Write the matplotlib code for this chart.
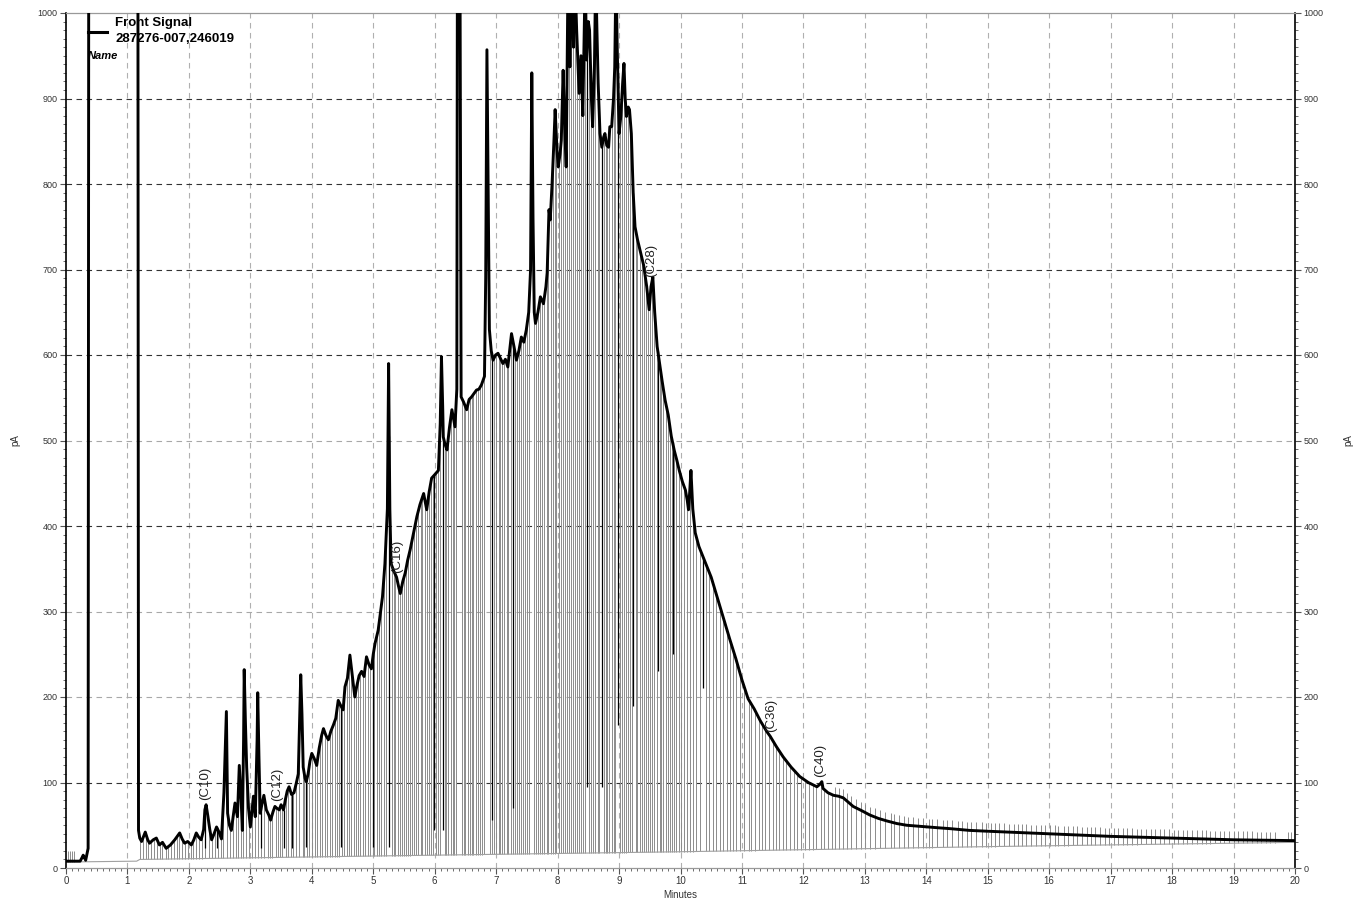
import numpy as np
import matplotlib.pyplot as plt
from matplotlib.ticker import MultipleLocator

plt.rcParams['font.family'] = ['Liberation Sans', 'DejaVu Sans']

trace_t = np.array([
    0.00, 0.23, 0.26, 0.28, 0.32, 0.36, 0.37, 1.17, 1.18, 1.20, 1.23, 1.29, 1.33, 1.36, 1.42,
    1.47, 1.52, 1.57, 1.63, 1.70, 1.77, 1.85, 1.89, 1.93, 1.98, 2.04, 2.08, 2.12, 2.16, 2.20,
    2.24, 2.26, 2.28, 2.31, 2.34, 2.37, 2.41, 2.45, 2.49, 2.53, 2.57, 2.61, 2.63, 2.66, 2.69,
    2.72, 2.75, 2.79, 2.82, 2.85, 2.87, 2.89, 2.90, 2.92, 2.94, 2.97, 3.00, 3.03, 3.05, 3.08,
    3.11, 3.12, 3.14, 3.16, 3.19, 3.22, 3.26, 3.30, 3.33, 3.37, 3.40, 3.43, 3.47, 3.50, 3.54,
    3.57, 3.60, 3.63, 3.67, 3.71, 3.75, 3.78, 3.81, 3.82, 3.84, 3.86, 3.89, 3.91, 3.94, 3.97,
    4.00, 4.04, 4.08, 4.12, 4.16, 4.19, 4.23, 4.27, 4.31, 4.35, 4.39, 4.43, 4.47, 4.51, 4.54,
    4.58, 4.62, 4.66, 4.70, 4.73, 4.77, 4.81, 4.85, 4.89, 4.93, 4.97, 5.00, 5.03, 5.08, 5.12,
    5.15, 5.19, 5.23, 5.25, 5.27, 5.29, 5.33, 5.38, 5.41, 5.44, 5.48, 5.52, 5.56, 5.60, 5.65,
    5.71, 5.76, 5.82, 5.87, 5.91, 5.95, 6.00, 6.06, 6.09, 6.11, 6.13, 6.14, 6.17, 6.20, 6.24,
    6.28, 6.33, 6.36, 6.37, 6.41, 6.43, 6.47, 6.52, 6.56, 6.60, 6.64, 6.68, 6.72, 6.76, 6.81,
    6.83, 6.85, 6.87, 6.89, 6.92, 6.95, 6.99, 7.03, 7.07, 7.11, 7.15, 7.19, 7.22, 7.25, 7.29,
    7.33, 7.37, 7.41, 7.45, 7.49, 7.53, 7.56, 7.58, 7.60, 7.62, 7.64, 7.68, 7.72, 7.77, 7.81,
    7.83, 7.86, 7.88, 7.91, 7.94, 7.96, 7.99, 8.01, 8.04, 8.06, 8.09, 8.11, 8.14, 8.17, 8.20,
    8.23, 8.26, 8.28, 8.31, 8.35, 8.38, 8.41, 8.45, 8.47, 8.50, 8.52, 8.55, 8.57, 8.60, 8.62,
    8.64, 8.66, 8.69, 8.72, 8.75, 8.77, 8.80, 8.83, 8.85, 8.88, 8.91, 8.93, 8.95, 8.97, 9.00,
    9.03, 9.06, 9.08, 9.10, 9.12, 9.15, 9.17, 9.20, 9.23, 9.26, 9.30, 9.35, 9.40, 9.45, 9.49,
    9.52, 9.55, 9.58, 9.62, 9.66, 9.70, 9.75, 9.80, 9.85, 9.90, 9.94, 9.98, 10.03, 10.08, 10.11,
    10.13, 10.15, 10.17, 10.20, 10.24, 10.30, 10.40, 10.50, 10.60, 10.70, 10.80, 10.90, 11.00, 11.10, 11.20,
    11.30, 11.40, 11.46, 11.56, 11.67, 11.80, 11.94, 12.08, 12.22, 12.27, 12.30, 12.32, 12.40, 12.49, 12.57,
    12.65, 12.73, 12.81, 12.95, 13.08, 13.22, 13.36, 13.52, 13.68, 13.85, 14.00, 14.20, 14.39, 14.70, 15.00,
    15.50, 16.00, 16.50, 17.00, 17.50, 18.00, 18.50, 19.00, 19.50, 20.00,
])
trace_pa = np.array([
    8, 8, 12, 15, 9, 23, 1100, 1100, 44, 35, 31, 42, 33, 29, 33,
    35, 27, 30, 23, 27, 33, 41, 34, 29, 31, 27, 33, 41, 36, 33,
    45, 68, 74, 60, 45, 33, 40, 48, 42, 34, 88, 183, 64, 50, 44,
    60, 76, 60, 120, 80, 44, 150, 232, 170, 118, 70, 48, 70, 84, 60,
    150, 205, 130, 64, 75, 85, 68, 62, 56, 66, 72, 70, 68, 74, 68,
    80, 90, 95, 86, 88, 100, 110, 200, 226, 180, 118, 105, 101, 110, 125,
    134, 128, 120, 140, 155, 163, 155, 150, 160, 167, 175, 196, 190, 185, 212,
    222, 249, 225, 200, 212, 225, 230, 224, 247, 238, 233, 250, 263, 278, 300,
    317, 356, 420, 590, 420, 356, 348, 340, 330, 321, 335, 345, 360, 372, 390,
    411, 425, 438, 419, 440, 456, 460, 465, 520, 598, 540, 504, 495, 489, 515,
    536, 516, 560, 1100, 1100, 551, 545, 536, 548, 551, 555, 559, 560, 565, 575,
    690, 957, 800, 630, 605, 594, 600, 602, 596, 590, 595, 586, 605, 625, 610,
    594, 605, 621, 615, 629, 650, 700, 930, 760, 650, 637, 650, 668, 660, 680,
    696, 770, 758, 800, 850, 887, 840, 820, 835, 851, 933, 880, 820, 1050, 937,
    1050, 960, 1050, 980, 906, 950, 880, 1050, 945, 990, 980, 900, 867, 940, 1050,
    980, 918, 859, 843, 855, 859, 845, 843, 867, 867, 900, 937, 1050, 960, 859,
    880, 920, 941, 900, 879, 890, 887, 859, 790, 750, 735, 720, 705, 680, 653,
    680, 691, 650, 610, 590, 570, 547, 530, 505, 488, 477, 465, 452, 442, 430,
    419, 440, 465, 420, 392, 376, 358, 340, 316, 292, 268, 245, 220, 198, 186,
    172, 160, 154, 142, 130, 118, 107, 100, 95, 98, 101, 93, 88, 85, 84,
    82, 77, 72, 67, 62, 58, 55, 52, 50, 49, 48, 47, 46, 44, 43,
    41.5, 40, 38.5, 37, 36, 35, 34, 33, 32.5, 32,
])

# Línea base de integración
base_t = [0, 1.15, 1.2, 5, 10, 15, 20]
base_pa = [7, 8, 10, 14, 19, 25, 30]

# Marcas de picos integrados (gris)
mark_t = np.array([
    0.04, 0.07, 0.10, 0.13,
    1.21, 1.25, 1.30, 1.34, 1.39, 1.43, 1.48, 1.53, 1.57, 1.62, 1.66, 1.71, 1.76, 1.80, 1.84, 1.89,
    1.94, 1.99, 2.03, 2.07, 2.12, 2.17, 2.21, 2.27, 2.33, 2.38, 2.43, 2.47, 2.52, 2.56, 2.62, 2.67,
    2.71, 2.76, 2.80, 2.84, 2.88, 2.93, 2.98, 3.02, 3.07, 3.13, 3.17, 3.23, 3.28, 3.32, 3.36, 3.41,
    3.45, 3.49, 3.52, 3.58, 3.62, 3.66, 3.70, 3.74, 3.79, 3.85, 3.88, 3.93, 3.96, 4.01, 4.05, 4.09,
    4.13, 4.17, 4.21, 4.25, 4.29, 4.33, 4.37, 4.41, 4.45, 4.49, 4.53, 4.57, 4.60, 4.64, 4.68, 4.72,
    4.75, 4.79, 4.83, 4.87, 4.91, 4.95, 4.99,
    5.02, 5.06, 5.09, 5.13, 5.17, 5.21, 5.30, 5.33, 5.36, 5.40, 5.43, 5.46, 5.50, 5.53, 5.57, 5.60,
    5.63, 5.67, 5.70, 5.73, 5.77, 5.80, 5.84, 5.87, 5.90, 5.94, 5.97, 6.02, 6.05, 6.08, 6.16, 6.19,
    6.22, 6.26, 6.29, 6.32, 6.35, 6.44, 6.47, 6.50, 6.54, 6.57, 6.60, 6.63, 6.67, 6.70, 6.73, 6.77,
    6.80, 6.90, 6.94, 6.97, 7.00, 7.04, 7.07, 7.10, 7.13, 7.17, 7.20, 7.24, 7.27, 7.31, 7.34, 7.37,
    7.41, 7.44, 7.47, 7.51, 7.54, 7.61, 7.65, 7.68, 7.71, 7.75, 7.78, 7.82, 7.85, 7.89, 7.92, 7.95,
    7.98, 8.02, 8.05, 8.08, 8.12, 8.15, 8.18, 8.21, 8.25, 8.28, 8.32, 8.35, 8.38, 8.42, 8.45, 8.51,
    8.54, 8.58, 8.61, 8.65, 8.68, 8.75, 8.78, 8.81, 8.84, 8.88, 8.91, 8.94, 9.01, 9.04, 9.08, 9.11,
    9.14, 9.18, 9.21, 9.27, 9.30, 9.34, 9.37, 9.41, 9.44, 9.47, 9.51, 9.54, 9.57, 9.61, 9.66, 9.69,
    9.72, 9.76, 9.79, 9.83, 9.86, 9.90, 9.93, 9.97,
    10.01, 10.06, 10.10, 10.15, 10.21, 10.26, 10.31, 10.42, 10.47, 10.53, 10.58, 10.64, 10.69, 10.75,
    10.80, 10.86, 10.91, 10.97, 11.04, 11.11, 11.15, 11.21, 11.27, 11.33, 11.38, 11.44, 11.50, 11.55,
    11.61, 11.66, 11.72, 11.78, 11.84, 11.90, 11.96, 12.02, 12.09, 12.15, 12.21, 12.28, 12.34, 12.40,
    12.46, 12.52, 12.58, 12.64,
    12.71, 12.78, 12.85, 12.93, 13.00, 13.09, 13.16, 13.25, 13.33, 13.42, 13.48, 13.55, 13.63, 13.71,
    13.78, 13.87, 13.95, 14.04, 14.10, 14.18, 14.27, 14.33, 14.42, 14.51, 14.58, 14.66, 14.73, 14.81,
    14.90, 14.97, 15.05, 15.11, 15.19, 15.26, 15.35, 15.42, 15.50, 15.56, 15.63, 15.71, 15.79, 15.86,
    15.93, 16.02, 16.09, 16.15, 16.24, 16.31, 16.38, 16.46, 16.53, 16.61, 16.68, 16.75, 16.83, 16.90,
    16.98, 17.05, 17.12, 17.20, 17.27, 17.34, 17.43, 17.50, 17.57, 17.65, 17.72, 17.80, 17.87, 17.95,
    18.03, 18.10, 18.17, 18.25, 18.33, 18.40, 18.48, 18.55, 18.62, 18.70, 18.78, 18.85, 18.93, 19.00,
    19.08, 19.15, 19.22, 19.30, 19.38, 19.45, 19.52, 19.60, 19.67, 19.88, 19.94,
])

# Marcas de picos (negro): tiempo y valor inferior
black_t = [2.26, 2.45, 3.18, 3.54, 3.67, 3.90, 4.48, 5.00, 5.26, 5.99, 6.14,
           6.93, 7.28, 8.48, 8.72, 8.98, 9.23, 9.63, 9.87, 10.37]
black_bottom = [23, 23, 23, 23, 23, 24, 25, 25, 24, 45, 45,
                56, 70, 95, 95, 167, 190, 230, 250, 210]

# Identificación de picos
peak_names = ['(C10)', '(C12)', '(C16)', '(C28)', '(C36)', '(C40)']
peak_t = [2.27, 3.43, 5.39, 9.53, 11.48, 12.28]

# Líneas de rejilla horizontales más oscuras
grid_dark = [100, 400, 600, 700, 800, 900]
grid_light = [200, 300, 500]

fig = plt.figure(figsize=(13.56, 9.02), dpi=100)
ax = fig.add_axes([66 / 1356, 1 - 868 / 902, 1229 / 1356, 855 / 902])

ax.set_xlim(0, 20)
ax.set_ylim(0, 1000)

# rejilla
for m in range(1, 20):
    ax.axvline(m, color='#b0b0b0', lw=0.8, ls=(0, (5, 4)), zorder=0)
for g in grid_light:
    ax.axhline(g, color='#a8a8a8', lw=0.8, ls=(0, (5, 4)), zorder=0)
for g in grid_dark:
    ax.axhline(g, color='#333333', lw=0.8, ls=(0, (5, 4)), zorder=0)

# marcas de integración
base_at = np.interp(mark_t, base_t, base_pa)
top_at = np.interp(mark_t, trace_t, trace_pa) + np.where(mark_t > 12.5, 10, 0)
top_at = np.maximum(top_at, 20)
ax.vlines(mark_t, base_at, top_at, colors='#8c8c8c', lw=0.7, zorder=1)
ax.plot(base_t, base_pa, color='#a0a0a0', lw=0.8, zorder=1)

black_top = np.interp(black_t, trace_t, trace_pa)
ax.vlines(black_t, black_bottom, black_top, colors='black', lw=0.9, zorder=2)

# señal
ax.plot(trace_t, trace_pa, color='black', lw=2.1, zorder=3, solid_joinstyle='round')

# etiquetas de picos
for name, t in zip(peak_names, peak_t):
    y = np.interp(t, trace_t, trace_pa) + 8
    ax.text(t, y, name, rotation=90, ha='center', va='bottom', fontsize=9.5, color='#222222', zorder=4)

# ejes
ax.xaxis.set_major_locator(MultipleLocator(1))
ax.xaxis.set_minor_locator(MultipleLocator(0.1))
ax.yaxis.set_major_locator(MultipleLocator(100))
ax.yaxis.set_minor_locator(MultipleLocator(10))
ax.yaxis.set_ticks_position('both')
ax.tick_params(axis='y', which='both', labelright=True, labelsize=6.5, labelcolor='#333333')
ax.tick_params(axis='x', which='both', labelsize=7, labelcolor='#333333')
ax.tick_params(which='major', length=4, width=0.8, color='#555555', pad=2)
ax.tick_params(which='minor', length=2, width=0.6, color='#555555')

for side in ['top', 'bottom']:
    ax.spines[side].set_color('#999999')
    ax.spines[side].set_linewidth(0.9)
for side in ['left', 'right']:
    ax.spines[side].set_color('black')
    ax.spines[side].set_linewidth(1.2)

fig.text(15 / 1356, 1 - 440 / 902, 'pA', rotation=90, ha='center', va='center', fontsize=7, color='#333333')
fig.text(1348 / 1356, 1 - 440 / 902, 'pA', rotation=90, ha='center', va='center', fontsize=7, color='#333333')
fig.text(680 / 1356, 1 - 895 / 902, 'Minutes', ha='center', va='center', fontsize=7, color='#333333')

# leyenda
ax.plot([0.018, 0.033], [0.978, 0.978], transform=ax.transAxes, color='black', lw=2.2, clip_on=False, zorder=5)
ax.text(0.0399, 0.988, 'Front Signal', transform=ax.transAxes, fontsize=9.5, fontweight='bold', va='center', ha='left', zorder=5)
ax.text(0.0399, 0.9696, '287276-007,246019', transform=ax.transAxes, fontsize=9.5, fontweight='bold', va='center', ha='left', zorder=5)
ax.text(0.018, 0.950, 'Name', transform=ax.transAxes, fontsize=8, fontweight='bold', fontstyle='italic', va='center', ha='left', zorder=5)

fig.savefig('out.png', dpi=100)
